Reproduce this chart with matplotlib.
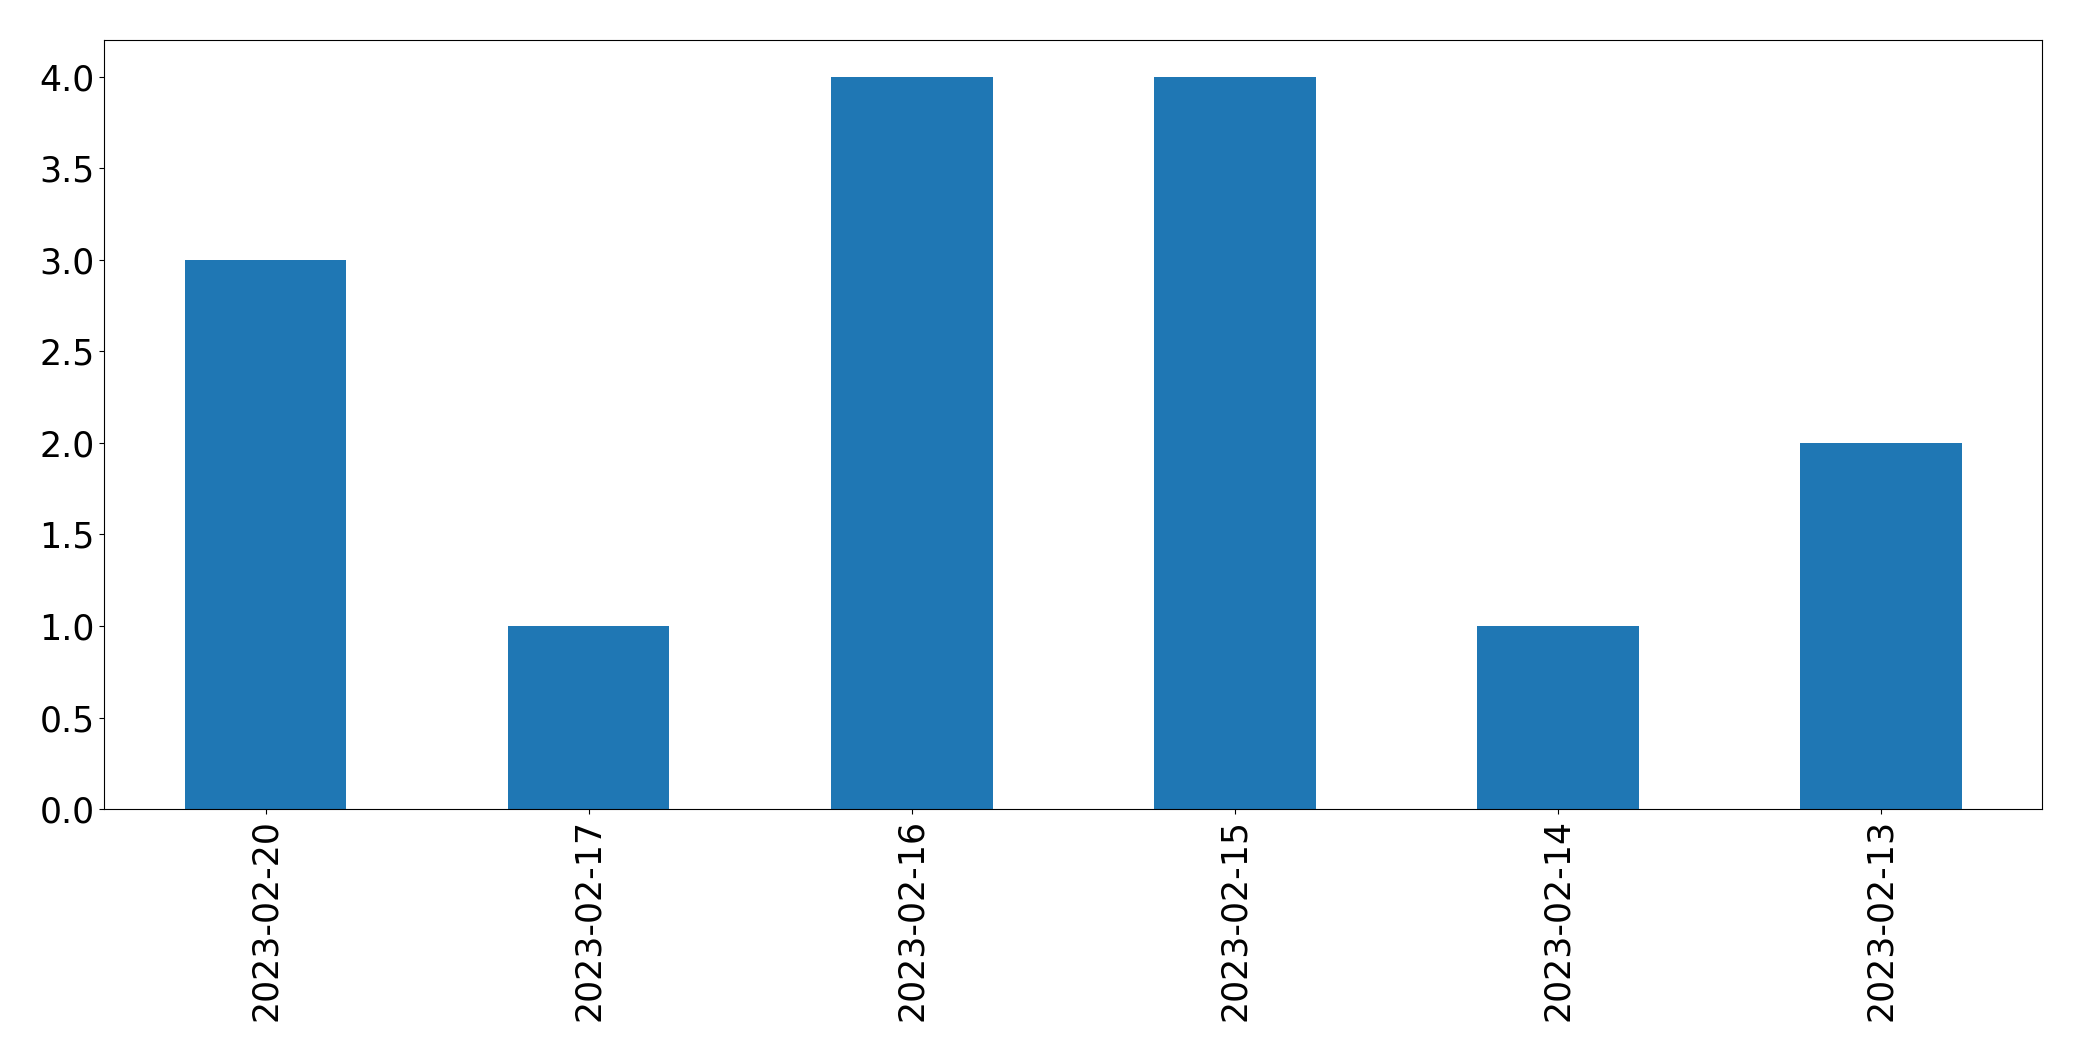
import matplotlib
matplotlib.use("Agg")
import matplotlib.pyplot as plt
import pandas as pd

dates = ["2023-02-20", "2023-02-17", "2023-02-16", "2023-02-15", "2023-02-14", "2023-02-13"]
counts = [3, 1, 4, 4, 1, 2]

fig, ax = plt.subplots(figsize=(20.82, 10.61), dpi=100)
s = pd.Series(counts, index=dates)
s.plot(kind="bar", ax=ax, color="#1f77b4", width=0.5)
ax.tick_params(axis="both", labelsize=25)
ax.set_xlabel("")
fig.subplots_adjust(left=0.05, right=0.981, top=0.962, bottom=0.2375)
fig.savefig("out.png", dpi=100)
